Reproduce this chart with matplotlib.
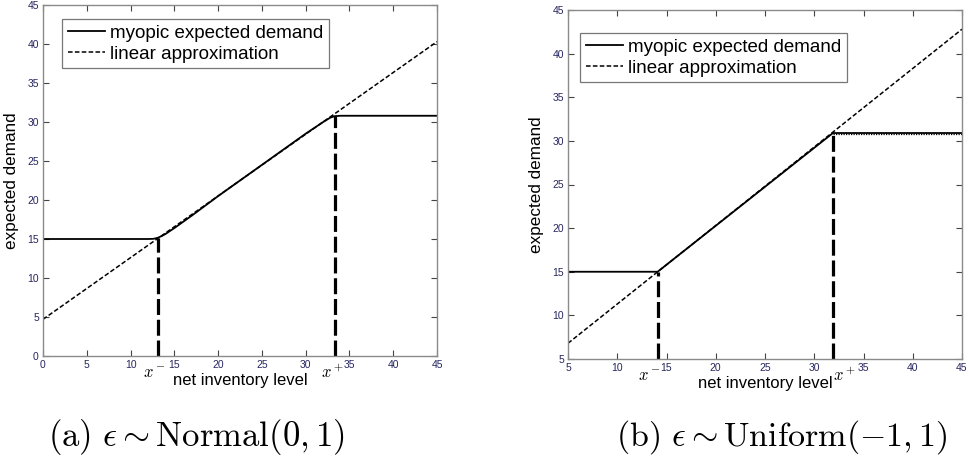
import matplotlib
matplotlib.use('Agg')
from matplotlib import pyplot as plt

plt.rcParams['font.family'] = ['Liberation Sans', 'DejaVu Sans']
plt.rcParams['mathtext.fontset'] = 'cm'

# (a) Normal noise
normal_x = [0, 12, 12.6, 13.1, 13.6, 14, 15, 17, 20, 25, 30, 32, 32.8, 33.3, 34, 45]
normal_y = [15, 15, 15.02, 15.15, 15.4, 15.65, 16.4, 18.0, 20.5, 24.5, 28.5, 30.0, 30.55, 30.75, 30.8, 30.8]
normal_lin_x = [0, 45]
normal_lin_y = [4.7, 40.3]
normal_xminus, normal_xplus = 13.1, 33.3
normal_xticks = [0, 5, 10, 15, 20, 25, 30, 35, 40, 45]
normal_yticks = [0, 5, 10, 15, 20, 25, 30, 35, 40, 45]

# (b) Uniform noise
unif_x = [5, 14.1, 31.9, 45]
unif_y = [15, 15, 30.9, 30.9]
unif_lin_x = [5, 45]
unif_lin_y = [6.8, 42.8]
unif_xminus, unif_xplus = 14.1, 31.9
unif_xticks = [5, 10, 15, 20, 25, 30, 35, 40, 45]
unif_yticks = [5, 10, 15, 20, 25, 30, 35, 40, 45]

W, H = 969, 463
fig = plt.figure(figsize=(W / 100, H / 100), dpi=100)

tick_color = '#262660'
spine_color = '#8a8a8a'


def setup(ax, xlim, ylim, xticks, yticks):
    ax.set_xlim(xlim)
    ax.set_ylim(ylim)
    ax.set_xticks(xticks)
    ax.set_yticks(yticks)
    ax.tick_params(direction='in', top=True, right=True, length=4, width=0.8,
                   labelsize=7.5, labelcolor=tick_color, color='#444444', pad=3)
    for s in ax.spines.values():
        s.set_color(spine_color)
        s.set_linewidth(1.0)
    ax.set_xlabel('net inventory level', fontsize=12, labelpad=2)
    ax.set_ylabel('expected demand', fontsize=12.3, labelpad=6)


def draw(ax, mx, my, lx, ly, xm, xp, ybot, xm_off, xp_off, leg_px):
    ax.plot(mx, my, color='black', lw=1.3, label='myopic expected demand')
    ax.plot(lx, ly, color='black', lw=1.1, ls=(0, (3, 1.5)), label='linear approximation')
    for xv in (xm, xp):
        yv = min(range(len(mx)), key=lambda i: abs(mx[i] - xv))
        ax.plot([xv, xv], [ybot, my[yv]], color='black', lw=2.3, ls=(0, (5, 1.5)))
    ax.annotate('$x^-$', xy=(xm, 0), xycoords=ax.get_xaxis_transform(),
                xytext=(xm_off, -22), textcoords='offset pixels',
                ha='left', va='baseline', fontsize=12)
    ax.annotate('$x^+$', xy=(xp, 0), xycoords=ax.get_xaxis_transform(),
                xytext=(xp_off, -22), textcoords='offset pixels',
                ha='left', va='baseline', fontsize=12)
    bw, bh = ax.bbox.width, ax.bbox.height
    leg = ax.legend(loc='upper left', bbox_to_anchor=(leg_px[0] / bw, 1 - leg_px[1] / bh),
                    borderaxespad=0, fontsize=13.5, frameon=True, fancybox=False,
                    handlelength=2.0, borderpad=0.3, labelspacing=0.2,
                    handletextpad=0.25)
    leg.get_frame().set_edgecolor('#555555')
    leg.get_frame().set_linewidth(0.9)


ax1 = fig.add_axes([43 / W, (H - 356) / H, 394 / W, 351 / H])
setup(ax1, (0, 45), (0, 45), normal_xticks, normal_yticks)
draw(ax1, normal_x, normal_y, normal_lin_x, normal_lin_y, normal_xminus, normal_xplus, 0,
     -15, -14, (19, 14))

ax2 = fig.add_axes([568 / W, (H - 359) / H, 394 / W, 349 / H])
setup(ax2, (5, 45), (5, 45), unif_xticks, unif_yticks)
draw(ax2, unif_x, unif_y, unif_lin_x, unif_lin_y, unif_xminus, unif_xplus, 5,
     -20, 0, (12, 23))
# slight ripple under the simulated flat part
ax2.plot([unif_xplus, 45], [30.78, 30.78], color='black', lw=0.9, ls=(0, (1, 1)))

fig.text(196 / W, 1 - 437 / H, r'$\mathrm{(a)}\ \epsilon \sim \mathrm{Normal}(0,1)$',
         ha='center', va='center', fontsize=25)
fig.text(782 / W, 1 - 437 / H, r'$\mathrm{(b)}\ \epsilon \sim \mathrm{Uniform}({-}1,1)$',
         ha='center', va='center', fontsize=24.5)

fig.savefig('out.png', dpi=100)
